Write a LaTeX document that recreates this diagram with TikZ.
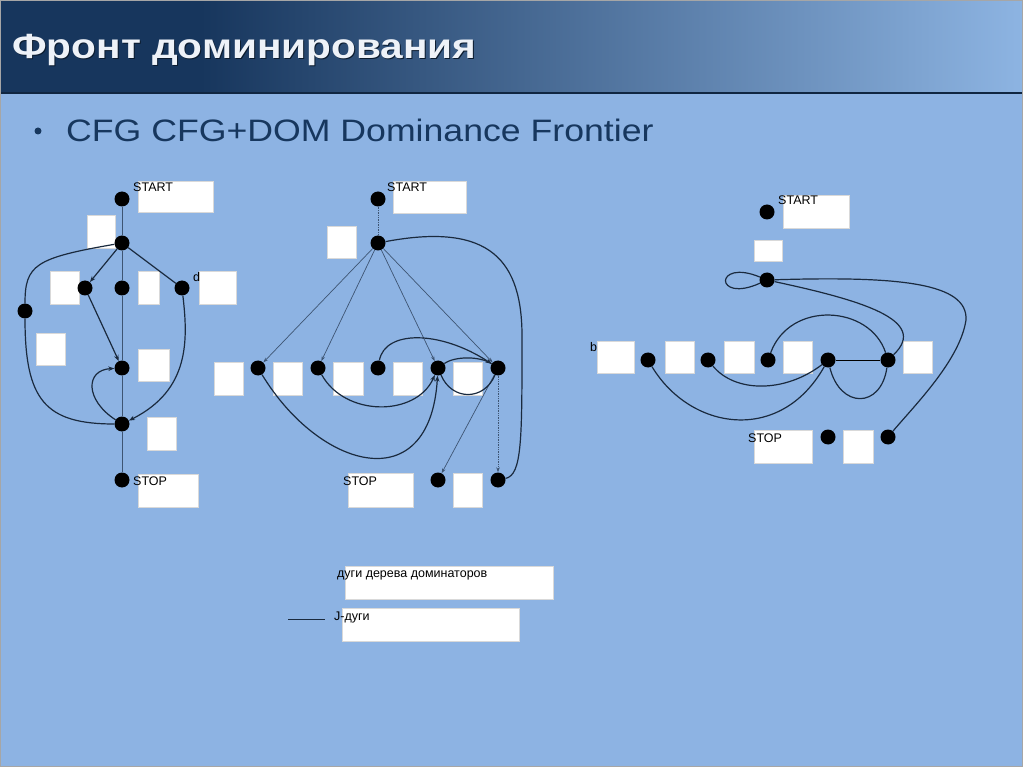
\documentclass[tikz,border=0pt]{standalone}
\usepackage{fontspec}
\setmainfont{Liberation Sans}
\usepackage{graphicx}
\usepackage{tikz}
\usetikzlibrary{arrows.meta,calc,positioning,shapes}
\definecolor{hdrdark}{HTML}{17365D}
\definecolor{hdrlight}{HTML}{8DB4E2}
\definecolor{bodyblue}{HTML}{8DB3E3}
\definecolor{textnavy}{HTML}{17375E}
\definecolor{titlewhite}{HTML}{EEF2F8}
\definecolor{arcblue}{HTML}{1A2A3E}
\definecolor{treegray}{HTML}{3E5573}
\tikzset{%
	vtx/.style    = {circle, fill=black, inner sep=0pt, minimum width=14pt, minimum height=15pt},
	wbox/.style   = {fill=white, draw=black!15, line width=0.8pt},
	lbl/.style    = {anchor=base west, inner sep=0pt, font=\fontsize{12.5}{14}\selectfont},
	jarc/.style   = {line width=1.2pt, draw=arcblue},
	jarrow/.style = {jarc, -{Stealth[length=6pt,width=4.5pt]}},
	tline/.style  = {line width=0.7pt, draw=treegray},
	tarc/.style   = {tline, -{Stealth[length=5pt,width=3.5pt]}},
}
\begin{document}
\begin{tikzpicture}[x=1pt,y=-1pt]
	\useasboundingbox (0,0) rectangle (1023,767);
	\fill[bodyblue] (0,0) rectangle (1023,767);
	\fill[hdrdark] (0,0) rectangle (200,92);
	\shade[left color=hdrdark, right color=hdrlight] (200,0) rectangle (1023,92);
	\draw[line width=2.5pt, hdrdark!70!black] (0,93) -- (1023,93);
	\draw[line width=1pt, black!35] (0.5,0.5) rectangle (1022.5,766.5);
	
	\node[anchor=base west, inner sep=0pt, text=hdrdark!50!black, font=\bfseries\fontsize{35}{38}\selectfont] (titleshadow) at (13,60) {\scalebox{1.16}[1]{Фронт доминирования}};
	\node[anchor=base west, inner sep=0pt, text=titlewhite, font=\bfseries\fontsize{35}{38}\selectfont] (title) at (12,59) {\scalebox{1.16}[1]{Фронт доминирования}};
	\node[circle, fill=textnavy, minimum size=7pt, inner sep=0pt] (bulletdot) at (38,131) {};
	\node[anchor=base west, inner sep=0pt, text=textnavy, font=\fontsize{31}{34}\selectfont] (bullet) at (66,142) {\scalebox{1.15}[1]{CFG CFG+DOM Dominance Frontier}};
	
	% CFG
	\draw[wbox] (138,181) rectangle (213,212);
	\draw[wbox] (87,215) rectangle (115,248);
	\draw[wbox] (50,271) rectangle (79,304);
	\draw[wbox] (138,271) rectangle (159,304);
	\draw[wbox] (199,271) rectangle (236,304);
	\draw[wbox] (36,333) rectangle (65,365);
	\draw[wbox] (138,349) rectangle (169,381);
	\draw[wbox] (147,417) rectangle (176,450);
	\draw[wbox] (138,474) rectangle (198,507);
	
	\node[vtx] (g1start) at (122,199) {};
	\node[vtx] (g1a) at (122,243) {};
	\node[vtx] (g1b) at (85,288) {};
	\node[vtx] (g1c) at (122,288) {};
	\node[vtx] (g1d) at (182,288) {};
	\node[vtx] (g1e) at (25,311) {};
	\node[vtx] (g1f) at (122,368) {};
	\node[vtx] (g1g) at (122,424) {};
	\node[vtx] (g1stop) at (122,480) {};
	\node[lbl] (g1startlbl) at (133,192) {START};
	\node[lbl] (g1dlbl) at (193,282) {d};
	\node[lbl] (g1stoplbl) at (133,485) {STOP};
	
	\draw[tline] (g1start) -- (g1a);
	\draw[tline] (g1a) -- (g1c);
	\draw[tline] (g1c) -- (g1f);
	\draw[tline] (g1f) -- (g1g);
	\draw[tline] (g1g) -- (g1stop);
	\draw[jarrow] (g1a) -- (g1b);
	\draw[jarc] (g1a) -- (g1d);
	\draw[jarc] (g1a) .. controls (35,258) and (25,265) .. (g1e);
	\draw[jarc] (g1e) .. controls (25,400) and (45,424) .. (g1g);
	\draw[jarrow] (g1b) -- (g1f);
	\draw[jarrow] (g1d) .. controls (188,340) and (190,390) .. (g1g);
	\draw[jarrow] (g1g) .. controls (85,400) and (85,370) .. (g1f);
	
	% CFG+DOM
	\draw[wbox] (393,181) rectangle (466,213);
	\draw[wbox] (327,226) rectangle (356,258);
	\draw[wbox] (214,362) rectangle (243,395);
	\draw[wbox] (273,362) rectangle (302,395);
	\draw[wbox] (333,362) rectangle (363,395);
	\draw[wbox] (393,362) rectangle (422,395);
	\draw[wbox] (453,362) rectangle (482,395);
	\draw[wbox] (348,473) rectangle (413,507);
	\draw[wbox] (453,473) rectangle (482,507);
	
	\node[vtx] (g2start) at (378,199) {};
	\node[vtx] (g2a) at (378,243) {};
	\node[vtx] (g2b) at (258,368) {};
	\node[vtx] (g2c) at (318,368) {};
	\node[vtx] (g2d) at (378,368) {};
	\node[vtx] (g2e) at (438,368) {};
	\node[vtx] (g2f) at (498,368) {};
	\node[vtx] (g2stop) at (438,480) {};
	\node[vtx] (g2g) at (498,480) {};
	\node[lbl] (g2startlbl) at (387,192) {START};
	\node[lbl] (g2stoplbl) at (343,485) {STOP};
	
	\draw[tline, densely dotted] (g2start) -- (g2a);
	\draw[tarc] (g2a) -- (g2b);
	\draw[tarc] (g2a) -- (g2c);
	\draw[tarc] (g2a) -- (g2e);
	\draw[tarc] (g2a) -- (g2f);
	\draw[tarc] (g2f) -- (g2stop);
	\draw[tarc, densely dotted] (g2f) -- (g2g);
	\draw[jarc] (g2a) .. controls (490,222) and (523,260) .. (522,340) .. controls (522,440) and (522,475) .. (g2g);
	\draw[jarrow] (g2b) .. controls (320,470) and (430,500) .. (g2e);
	\draw[jarrow] (g2c) .. controls (345,417) and (416,417) .. (g2e);
	\draw[jarrow] (g2d) .. controls (385,330) and (440,330) .. (g2f);
	\draw[jarc] (g2e) .. controls (455,356) and (480,356) .. (g2f);
	\draw[jarc] (g2e) .. controls (452,401) and (484,401) .. (g2f);
	
	% Dominance Frontier
	\draw[wbox] (783,195) rectangle (849,228);
	\draw[wbox] (754,240) rectangle (782,261);
	\draw[wbox] (597,341) rectangle (634,373);
	\draw[wbox] (665,341) rectangle (694,373);
	\draw[wbox] (724,341) rectangle (754,373);
	\draw[wbox] (783,341) rectangle (812,373);
	\draw[wbox] (903,341) rectangle (932,373);
	\draw[wbox] (754,430) rectangle (812,463);
	\draw[wbox] (843,430) rectangle (873,463);
	
	\node[vtx] (g3start) at (767,212) {};
	\node[vtx] (g3a) at (767,280) {};
	\node[vtx] (g3b) at (648,360) {};
	\node[vtx] (g3c) at (708,360) {};
	\node[vtx] (g3d) at (768,360) {};
	\node[vtx] (g3e) at (828,360) {};
	\node[vtx] (g3f) at (888,360) {};
	\node[vtx] (g3stop) at (828,437) {};
	\node[vtx] (g3g) at (888,437) {};
	\node[lbl] (g3startlbl) at (778,205) {START};
	\node[lbl] (g3blbl) at (590,352) {b};
	\node[lbl] (g3stoplbl) at (748,442) {STOP};
	
	\draw[jarc] (g3a) .. controls (714,258) and (714,304) .. (g3a);
	\draw[jarc] (g3a) .. controls (860,300) and (930,320) .. (g3f);
	\draw[jarc] (g3a) .. controls (900,276) and (968,283) .. (966,320) .. controls (960,360) and (915,405) .. (g3g);
	\draw[jarc] (g3b) .. controls (690,430) and (780,445) .. (g3e);
	\draw[jarc] (g3c) .. controls (735,393) and (785,393) .. (g3e);
	\draw[jarc] (g3d) .. controls (790,300) and (870,305) .. (g3f);
	\draw[tline, draw=black] (g3e) -- (g3f);
	\draw[jarc] (g3e) .. controls (840,409) and (881,409) .. (g3f);
	
	% legend
	\draw[wbox] (345,566) rectangle (553,599);
	\draw[wbox] (342,608) rectangle (519,641);
	\node[lbl] (legdom) at (337,577) {дуги дерева доминаторов};
	\coordinate (legA) at (288,619);
	\coordinate (legB) at (325,619);
	\draw[tline, draw=arcblue] (legA) -- (legB);
	\node[lbl] (legj) at (334,620) {J-дуги};
\end{tikzpicture}
\end{document}
